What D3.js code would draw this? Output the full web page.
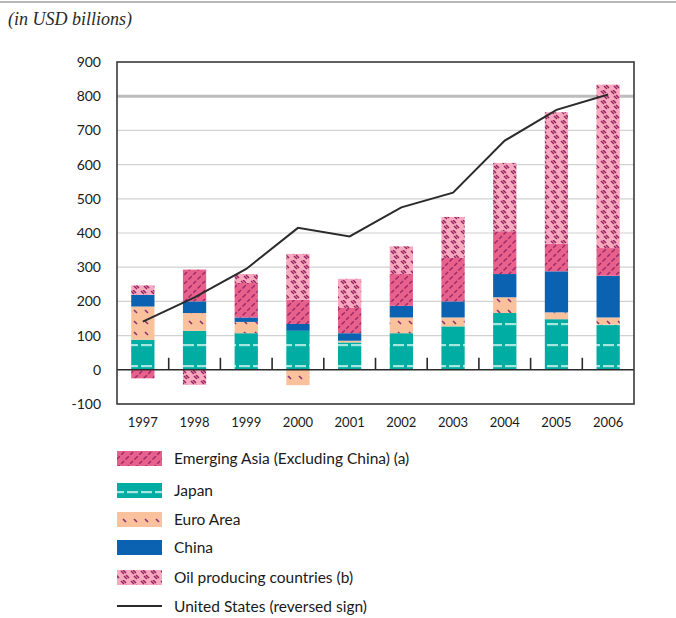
<!DOCTYPE html>
<html>
<head>
<meta charset="utf-8">
<script src="https://d3js.org/d3.v7.min.js"></script>
<style>
body { margin: 0; background: #fff; }
.frame { fill: none; stroke: #3a3a3a; stroke-width: 1.6; }
.lbl { font-family: Lato, "Open Sans", sans-serif; fill: #1a1a1a; }
</style>
</head>
<body>
<script>

var years = ["1997","1998","1999","2000","2001","2002","2003","2004","2005","2006"];
var japan    = [88, 114, 107, 114, 80, 107, 127, 166, 148, 132];
var euro     = [97, 52, 33, -45, 5, 46, 26, 46, 20, 21];
var china    = [34, 34, 13, 20, 22, 34, 47, 68, 120, 122];
var emAsia   = [-25, 93, 101, 71, 74, 93, 127, 125, 81, 81];
var oil      = [28, -44, 26, 134, 85, 81, 120, 200, 384, 478];
var usRev    = [141, 212, 295, 415, 390, 475, 518, 670, 760, 805];
var yTicks   = [-100, 0, 100, 200, 300, 400, 500, 600, 700, 800, 900];

var series = [
  {name: "Japan", values: japan, fill: "url(#pJapan)"},
  {name: "Euro Area", values: euro, fill: "url(#pEuro)"},
  {name: "China", values: china, fill: "#0a62b0"},
  {name: "Emerging Asia (Excluding China) (a)", values: emAsia, fill: "url(#pAsia)"},
  {name: "Oil producing countries (b)", values: oil, fill: "url(#pOil)"}
];
var legendOrder = [3, 0, 1, 2, 4];

var width = 676, height = 618;
var mLeft = 117, mRight = 634, mTop = 62, mBottom = 404;

var svg = d3.select("body").append("svg")
  .attr("width", width)
  .attr("height", height);

// patterns
var defs = svg.append("defs");

var pa = defs.append("pattern").attr("id", "pAsia")
  .attr("patternUnits", "userSpaceOnUse").attr("width", 9).attr("height", 9);
pa.append("rect").attr("width", 9).attr("height", 9).attr("fill", "#e8618c");
pa.append("path").attr("d", "M0,9 L9,0 M-2,2 L2,-2 M7,11 L11,7")
  .attr("stroke", "#9c2a69").attr("stroke-width", 1.5).attr("stroke-dasharray", "4,2");

var pj = defs.append("pattern").attr("id", "pJapan")
  .attr("patternUnits", "userSpaceOnUse").attr("width", 14).attr("height", 21)
  .attr("y", 1);
pj.append("rect").attr("width", 14).attr("height", 21).attr("fill", "#00ada2");
pj.append("rect").attr("x", 1).attr("y", 7).attr("width", 11).attr("height", 2.2).attr("fill", "#a6e6df");

var pe = defs.append("pattern").attr("id", "pEuro")
  .attr("patternUnits", "userSpaceOnUse").attr("width", 11).attr("height", 11);
pe.append("rect").attr("width", 11).attr("height", 11).attr("fill", "#f9c19c");
pe.append("path").attr("d", "M2,2 L5,5")
  .attr("stroke", "#8c2f74").attr("stroke-width", 1.6);

var po = defs.append("pattern").attr("id", "pOil")
  .attr("patternUnits", "userSpaceOnUse").attr("width", 10).attr("height", 10);
po.append("rect").attr("width", 10).attr("height", 10).attr("fill", "#f6a9bf");
po.append("path").attr("d", "M1,1 L4,4 M3,0 L6,3 M6,5 L9,8 M4,6 L7,9")
  .attr("stroke", "#98245f").attr("stroke-width", 1.5);

// scales
var x = d3.scaleBand().domain(years).range([mLeft, mRight]).padding(0);
var y = d3.scaleLinear().domain([-100, 900]).range([mBottom, mTop]);
var barW = x.bandwidth() * 0.45;

// grid
svg.append("g").selectAll("line")
  .data(yTicks.filter(function(d) { return d > 0 && d < 900; }))
  .join("line")
  .attr("x1", mLeft).attr("x2", mRight)
  .attr("y1", function(d) { return y(d); })
  .attr("y2", function(d) { return y(d); })
  .attr("stroke", function(d) { return d === 800 ? "#bdbdbd" : "#d2d2d2"; })
  .attr("stroke-width", function(d) { return d === 800 ? 3 : 1.2; });

// stacked bars (positive and negative stacks separately)
years.forEach(function(yr, i) {
  var pos = 0, neg = 0;
  series.forEach(function(s) {
    var v = s.values[i];
    var y0, y1;
    if (v >= 0) { y0 = pos; y1 = pos + v; pos = y1; }
    else { y0 = neg + v; y1 = neg; neg = y0; }
    svg.append("rect")
      .attr("x", x(yr) + (x.bandwidth() - barW) / 2)
      .attr("width", barW)
      .attr("y", y(y1))
      .attr("height", y(y0) - y(y1))
      .attr("fill", s.fill);
  });
});

// zero line and category ticks
svg.append("line")
  .attr("x1", mLeft).attr("x2", mRight)
  .attr("y1", y(0)).attr("y2", y(0))
  .attr("stroke", "#2a2a2a").attr("stroke-width", 1.6);
svg.append("g").selectAll("line")
  .data(years.slice(1))
  .join("line")
  .attr("x1", function(d) { return x(d); })
  .attr("x2", function(d) { return x(d); })
  .attr("y1", y(0)).attr("y2", y(0) - 12)
  .attr("stroke", "#2a2a2a").attr("stroke-width", 1.6);

// US line
var line = d3.line()
  .x(function(d, i) { return x(years[i]) + x.bandwidth() / 2; })
  .y(function(d) { return y(d); });
svg.append("path")
  .datum(usRev)
  .attr("d", line)
  .attr("fill", "none")
  .attr("stroke", "#2b2b2b")
  .attr("stroke-width", 2);

// frame
svg.append("rect").attr("class", "frame")
  .attr("x", mLeft).attr("y", mTop)
  .attr("width", mRight - mLeft).attr("height", mBottom - mTop);

// y labels
svg.append("g").selectAll("text")
  .data(yTicks)
  .join("text")
  .attr("class", "lbl")
  .attr("x", 101)
  .attr("y", function(d) { return y(d) + 5; })
  .attr("text-anchor", "end")
  .attr("font-size", 14)
  .text(function(d) { return d; });

// x labels
svg.append("g").selectAll("text")
  .data(years)
  .join("text")
  .attr("class", "lbl")
  .attr("x", function(d) { return x(d) + x.bandwidth() / 2; })
  .attr("y", 427)
  .attr("text-anchor", "middle")
  .attr("font-size", 13)
  .text(function(d) { return d; });

// top rule and title
svg.append("line").attr("x1", 0).attr("x2", width).attr("y1", 2).attr("y2", 2)
  .attr("stroke", "#b8b8b8").attr("stroke-width", 2);
svg.append("text")
  .attr("x", 8).attr("y", 25)
  .attr("font-family", "'Liberation Serif', serif")
  .attr("font-style", "italic")
  .attr("font-size", 18)
  .attr("fill", "#2a2a2a")
  .text("(in USD billions)");

// legend
var lg = svg.append("g");
var rowY = [458, 490, 519, 547, 577, 606];
legendOrder.forEach(function(si, r) {
  lg.append("rect")
    .attr("x", 117).attr("y", rowY[r] - 7)
    .attr("width", 45).attr("height", 15)
    .attr("fill", series[si].fill);
  lg.append("text")
    .attr("class", "lbl")
    .attr("x", 174).attr("y", rowY[r] + 6)
    .attr("font-size", 15.5)
    .text(series[si].name);
});
lg.append("line")
  .attr("x1", 117).attr("x2", 162)
  .attr("y1", rowY[5]).attr("y2", rowY[5])
  .attr("stroke", "#2b2b2b").attr("stroke-width", 1.8);
lg.append("text")
  .attr("class", "lbl")
  .attr("x", 174).attr("y", rowY[5] + 6)
  .attr("font-size", 15.5)
  .text("United States (reversed sign)");

</script>
</body>
</html>
